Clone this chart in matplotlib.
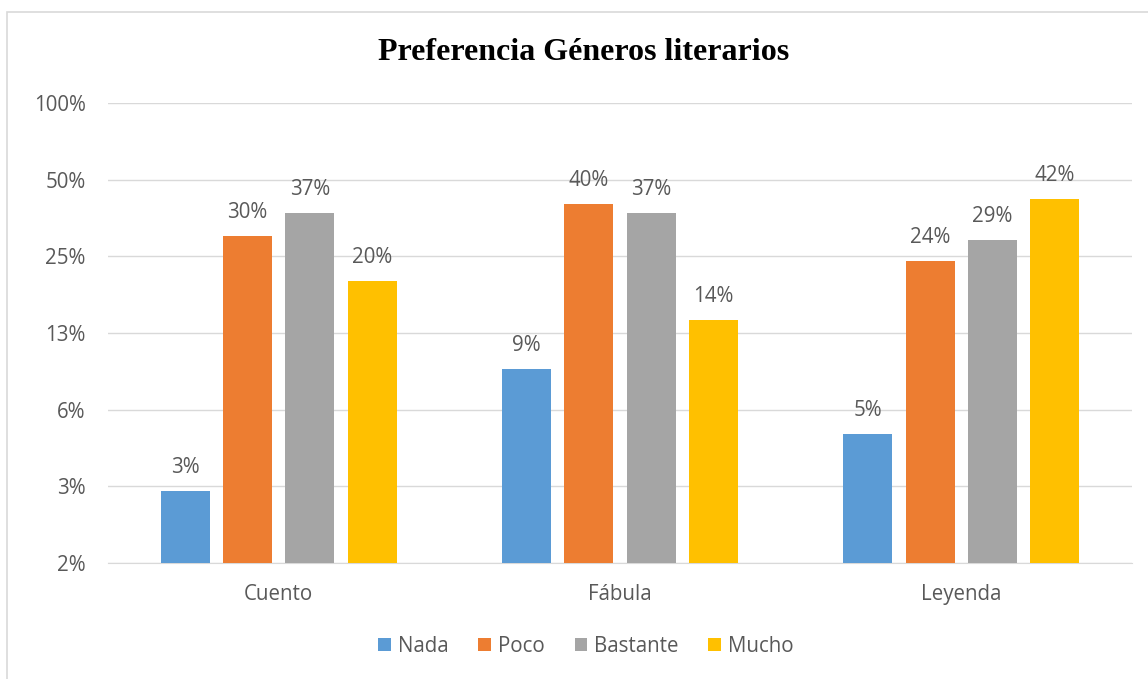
import numpy as np
import matplotlib.pyplot as plt
from matplotlib.patches import Rectangle

# Datos
categorias = ["Cuento", "Fábula", "Leyenda"]
series = ["Nada", "Poco", "Bastante", "Mucho"]
nada = [0.03, 0.09, 0.05]
poco = [0.30, 0.40, 0.24]
bastante = [0.37, 0.37, 0.29]
mucho = [0.20, 0.14, 0.42]
colores = ["#5B9BD5", "#ED7D31", "#A5A5A5", "#FFC000"]
ticks = [1 / 64, 1 / 32, 1 / 16, 1 / 8, 1 / 4, 1 / 2, 1]
tick_labels = ["2%", "3%", "6%", "13%", "25%", "50%", "100%"]

texto = "#595959"
fs = 14.8
plt.rcParams["font.family"] = ["Open Sans", "DejaVu Sans"]

fig = plt.figure(figsize=(11.48, 6.79), dpi=100)
ax = fig.add_axes([108 / 1148, 1 - 563 / 679, 1024 / 1148, 460 / 679])

# borde del gráfico
fig.patches.append(Rectangle((7 / 1148, -0.05), 1.2, 1 - 12 / 679 + 0.05,
                             transform=fig.transFigure, fill=False,
                             edgecolor="#D9D9D9", linewidth=1.2))

x = np.arange(len(categorias))
ancho = 0.1435
paso = 0.1826
valores = [nada, poco, bastante, mucho]
for i, (nombre, vals) in enumerate(zip(series, valores)):
    pos = x + (i - 1.5) * paso
    barras = ax.bar(pos, vals, width=ancho, color=colores[i], label=nombre, zorder=3)
    for b, v in zip(barras, vals):
        ax.annotate(f"{round(v * 100):.0f}%", (b.get_x() + b.get_width() / 2, v),
                    xytext=(0, 9.5), textcoords="offset points", ha="center", va="bottom",
                    fontsize=fs, color=texto)

ax.set_yscale("log", base=2)
ax.set_ylim(1 / 64, 1)
ax.set_xlim(-0.5, 2.5)
ax.set_yticks(ticks)
ax.set_yticklabels(tick_labels)
ax.yaxis.set_minor_locator(plt.NullLocator())
ax.set_xticks(x)
ax.set_xticklabels(categorias)
ax.tick_params(axis="both", length=0, colors=texto, labelsize=fs)
ax.tick_params(axis="y", pad=16)
ax.tick_params(axis="x", pad=15)
ax.grid(axis="y", color="#D9D9D9", linewidth=1, zorder=0)
for s in ["top", "right", "left"]:
    ax.spines[s].set_visible(False)
ax.spines["bottom"].set_color("#D9D9D9")

fig.text(584 / 1148, 1 - 52 / 679, "Preferencia Géneros literarios", ha="center", va="center",
         fontsize=23, fontweight="bold", family="Liberation Serif", color="black")

leg = fig.legend(loc="center", bbox_to_anchor=(586 / 1148, 1 - 646 / 679), ncol=4,
                 frameon=False, fontsize=fs, handlelength=0.6, handleheight=0.6,
                 handletextpad=0.35, columnspacing=1.45)
for t in leg.get_texts():
    t.set_color(texto)

fig.savefig("out.png", dpi=100)
